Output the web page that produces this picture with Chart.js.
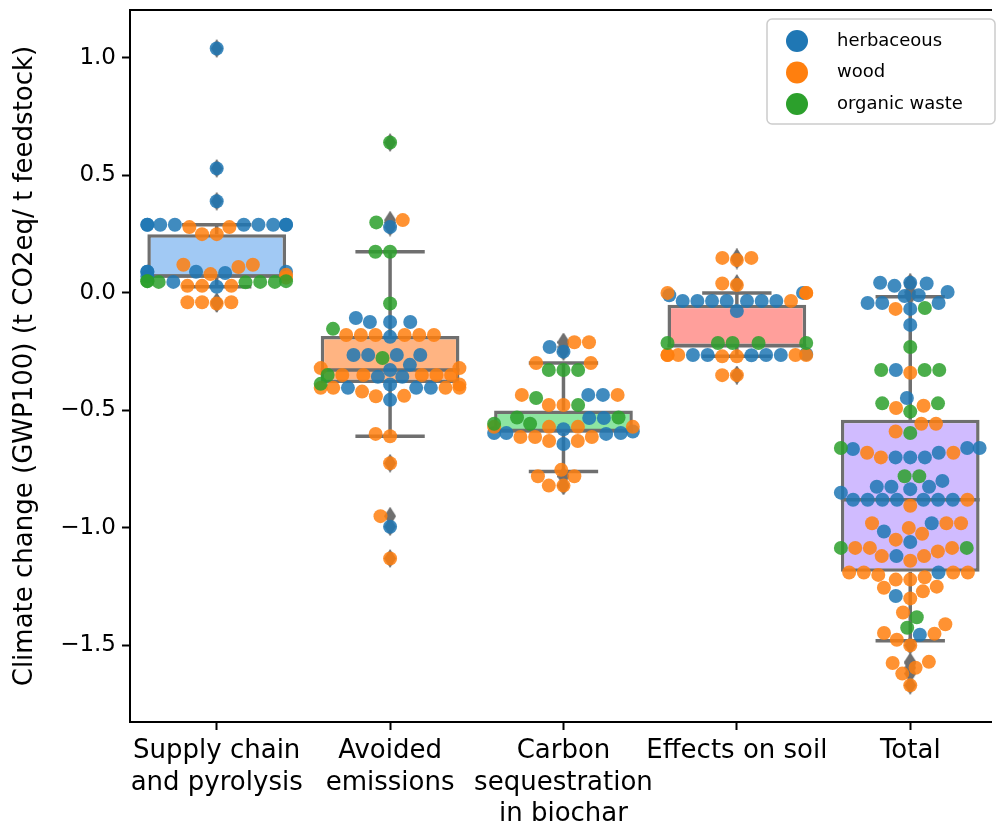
<!DOCTYPE html>
<html>
<head>
<meta charset="utf-8">
<script src="https://cdn.jsdelivr.net/npm/chart.js@4.4.0/dist/chart.umd.min.js"></script>
<style>
  html, body { margin: 0; padding: 0; background: #fff; }
</style>
</head>
<body>
<canvas id="chart" width="997" height="826"></canvas>
<script>
const categories = [['Supply chain', 'and pyrolysis'], ['Avoided', 'emissions'], ['Carbon', 'sequestration', 'in biochar'], 'Effects on soil', 'Total'];
const feedstocks = ['herbaceous', 'wood', 'organic waste'];
const pointColors = ['31, 119, 180', '255, 127, 14', '44, 160, 44'];
const boxColors = ['#a1c9f4', '#ffb482', '#8de5a1', '#ff9f9b', '#d0bbff'];
const yTicks = [-1.5, -1.0, -0.5, 0.0, 0.5, 1.0];
const yTitle = 'Climate change (GWP100) (t CO2eq/ t feedstock)';

// box statistics per category
const q1 = [0.065, -0.383, -0.595, -0.23, -1.187];
const medians = [0.072, -0.328, -0.585, -0.225, -0.88];
const q3 = [0.25, -0.183, -0.50, -0.05, -0.54];
const whiskerLow = [0.026, -0.61, -0.76, -0.27, -1.48];
const whiskerHigh = [0.29, 0.175, -0.298, 0.0, -0.016];

// individual results per feedstock, one list per category
const herbaceous = [
  [1.04, 0.53, 0.39, 0.29, 0.29, 0.29, 0.29, 0.29, 0.29, 0.29, 0.29, 0.29, 0.09, 0.09, 0.09, 0.09, 0.085, 0.07, 0.047, 0.026],
  [0.28, -0.107, -0.124, -0.124, -0.124, -0.187, -0.264, -0.264, -0.264, -0.264, -0.306, -0.328, -0.357, -0.357, -0.39, -0.404, -0.404, -0.404, -0.455, -0.995],
  [-0.23, -0.25, -0.434, -0.434, -0.532, -0.532, -0.58, -0.59, -0.596, -0.596, -0.596, -0.60, -0.643],
  [0.0, -0.01, -0.034, -0.034, -0.034, -0.034, -0.034, -0.034, -0.034, -0.077, -0.26, -0.264, -0.264, -0.264, -0.264, -0.265],
  [0.043, 0.043, 0.04, 0.03, 0.004, -0.01, -0.013, -0.043, -0.043, -0.043, -0.068, -0.136, -0.328, -0.447, -0.66, -0.66, -0.664, -0.68, -0.70, -0.70, -0.70, -0.80, -0.825, -0.825, -0.825, -0.835, -0.85, -0.88, -0.88, -0.88, -0.88, -0.88, -0.88, -0.88, -0.98, -1.015, -1.06, -1.12, -1.19, -1.29, -1.455]
];
const wood = [
  [0.28, 0.28, 0.25, 0.25, 0.12, 0.12, 0.11, 0.08, 0.077, 0.065, 0.03, 0.03, 0.03, -0.04, -0.04, -0.04, -0.045],
  [0.31, -0.179, -0.179, -0.179, -0.179, -0.179, -0.179, -0.32, -0.32, -0.349, -0.349, -0.349, -0.349, -0.349, -0.39, -0.404, -0.404, -0.404, -0.404, -0.42, -0.438, -0.44, -0.60, -0.61, -0.725, -0.95, -1.13],
  [-0.21, -0.21, -0.298, -0.298, -0.434, -0.434, -0.477, -0.477, -0.57, -0.57, -0.57, -0.57, -0.613, -0.613, -0.613, -0.63, -0.63, -0.753, -0.78, -0.78, -0.82, -0.82],
  [0.149, 0.149, 0.14, 0.04, 0.034, 0.0, 0.0, 0.0, -0.034, -0.264, -0.264, -0.264, -0.264, -0.264, -0.27, -0.27, -0.35, -0.35],
  [-0.068, -0.34, -0.48, -0.49, -0.557, -0.557, -0.59, -0.68, -0.68, -0.70, -0.88, -0.906, -0.98, -0.98, -0.98, -1.0, -1.025, -1.05, -1.085, -1.085, -1.085, -1.10, -1.12, -1.12, -1.14, -1.19, -1.19, -1.19, -1.19, -1.20, -1.21, -1.22, -1.22, -1.25, -1.255, -1.27, -1.30, -1.36, -1.41, -1.447, -1.45, -1.476, -1.50, -1.57, -1.575, -1.595, -1.62, -1.67]
];
const organicWaste = [
  [0.047, 0.047, 0.047, 0.05, 0.05, 0.05, 0.045],
  [0.64, 0.30, 0.175, 0.175, -0.045, -0.153, -0.277, -0.349, -0.387],
  [-0.328, -0.328, -0.328, -0.447, -0.477, -0.53, -0.53, -0.557, -0.557],
  [-0.213, -0.213, -0.213, -0.213, -0.213],
  [-0.064, -0.23, -0.328, -0.328, -0.328, -0.47, -0.47, -0.505, -0.596, -0.66, -0.78, -0.78, -1.085, -1.085, -1.38, -1.425]
];
const series = [herbaceous, wood, organicWaste];

const FONT = 'DejaVu Sans';
const LINE_GRAY = '#6f6f6f';
// the original is cropped just before its right spine (x limit 4.5), so the visible range stops a little short
const X_MIN = -0.5, X_MAX = 4.46;

function thinDiamond(w, h, color) {
  const c = document.createElement('canvas');
  c.width = w; c.height = h;
  const g = c.getContext('2d');
  g.fillStyle = color;
  g.beginPath();
  g.moveTo(w / 2, 0); g.lineTo(w, h / 2); g.lineTo(w / 2, h); g.lineTo(0, h / 2);
  g.closePath(); g.fill();
  return c;
}

// fliers: every value beyond the whiskers, drawn at the category centre
const outliers = [];
categories.forEach((_, i) => {
  series.forEach(s => s[i].forEach(v => {
    if (v > whiskerHigh[i] || v < whiskerLow[i]) outliers.push({ x: i, y: v });
  }));
});

const boxPlugin = {
  id: 'boxLines',
  afterDatasetDraw(chart, args) {
    if (args.index !== 0) return;
    const ctx = chart.ctx, y = chart.scales.y;
    ctx.save();
    ctx.strokeStyle = LINE_GRAY;
    ctx.lineWidth = 3.5;
    ctx.lineCap = 'butt';
    args.meta.data.forEach((bar, i) => {
      const cx = bar.x, hw = bar.width / 2, cap = hw / 2;
      const line = (x0, y0, x1, y1) => { ctx.beginPath(); ctx.moveTo(x0, y0); ctx.lineTo(x1, y1); ctx.stroke(); };
      line(cx, y.getPixelForValue(q3[i]), cx, y.getPixelForValue(whiskerHigh[i]));
      line(cx, y.getPixelForValue(q1[i]), cx, y.getPixelForValue(whiskerLow[i]));
      line(cx - cap, y.getPixelForValue(whiskerHigh[i]), cx + cap, y.getPixelForValue(whiskerHigh[i]));
      line(cx - cap, y.getPixelForValue(whiskerLow[i]), cx + cap, y.getPixelForValue(whiskerLow[i]));
      line(cx - hw, y.getPixelForValue(medians[i]), cx + hw, y.getPixelForValue(medians[i]));
    });
    ctx.restore();
  },
  afterDatasetsDraw(chart) {
    // left, top and bottom spines; the right one is outside the picture
    const { ctx, chartArea: a } = chart;
    ctx.save();
    ctx.strokeStyle = '#000';
    ctx.lineWidth = 2;
    ctx.beginPath();
    ctx.moveTo(a.right + 2, a.top);
    ctx.lineTo(a.left, a.top);
    ctx.lineTo(a.left, a.bottom);
    ctx.lineTo(a.right + 2, a.bottom);
    ctx.stroke();
    ctx.restore();
  },
  afterDraw(chart) {
    const ctx = chart.ctx;
    const bx = 767, by = 19, bw = 228, bh = 105;
    ctx.save();
    ctx.beginPath();
    ctx.roundRect(bx, by, bw, bh, 5);
    ctx.fillStyle = 'rgba(255,255,255,0.8)';
    ctx.fill();
    ctx.strokeStyle = '#cccccc';
    ctx.lineWidth = 1.5;
    ctx.stroke();
    ctx.font = '18px "' + FONT + '"';
    ctx.textBaseline = 'middle';
    feedstocks.forEach((name, i) => {
      const yy = 41 + i * 31.5;
      ctx.beginPath();
      ctx.arc(797, yy, 11, 0, Math.PI * 2);
      ctx.fillStyle = 'rgb(' + pointColors[i] + ')';
      ctx.fill();
      ctx.fillStyle = '#000';
      ctx.fillText(name, 837, yy);
    });
    ctx.restore();
  }
};

const datasets = [
  {
    type: 'bar',
    label: 'box',
    data: categories.map((_, i) => ({ x: i, y: [q1[i], q3[i]] })),
    backgroundColor: boxColors,
    borderColor: LINE_GRAY,
    borderWidth: 3.5,
    borderSkipped: false,
    grouped: false,
    barPercentage: 0.8,
    categoryPercentage: 1.0,
    order: 5
  },
  {
    type: 'scatter',
    label: 'outliers',
    data: outliers,
    pointStyle: thinDiamond(12, 19, LINE_GRAY),
    order: 4
  }
];
feedstocks.forEach((name, si) => {
  datasets.push({
    type: 'scatter',
    label: name,
    data: [],
    pointRadius: 7,
    pointBorderWidth: 0,
    pointBackgroundColor: 'rgba(' + pointColors[si] + ', 0.85)',
    order: 3 - si
  });
});

const chart = new Chart(document.getElementById('chart'), {
  type: 'bar',
  data: { datasets: datasets },
  options: {
    responsive: false,
    animation: false,
    devicePixelRatio: 1,
    events: [],
    layout: { padding: { top: 10, right: 1, left: 0, bottom: 0 } },
    plugins: { legend: { display: false }, tooltip: { enabled: false } },
    scales: {
      x: {
        type: 'linear',
        min: X_MIN,
        max: X_MAX,
        offset: false,
        afterBuildTicks: s => { s.ticks = categories.map((_, i) => ({ value: i })); },
        grid: { offset: false, drawOnChartArea: false, tickLength: 8, tickWidth: 2, tickColor: '#000' },
        border: { display: false },
        ticks: {
          color: '#000',
          font: { family: FONT, size: 26 },
          padding: 6,
          maxRotation: 0,
          autoSkip: false,
          callback: (v, i) => categories[i]
        },
        afterFit: s => { s.height = 104; s.paddingLeft = 0; s.paddingRight = 0; }
      },
      y: {
        min: -1.826,
        max: 1.204,
        afterBuildTicks: s => { s.ticks = yTicks.map(v => ({ value: v })); },
        grid: { drawOnChartArea: false, tickLength: 8, tickWidth: 2, tickColor: '#000' },
        border: { display: false },
        ticks: {
          color: '#000',
          font: { family: FONT, size: 23 },
          padding: 6,
          callback: v => (v < 0 ? '\u2212' : '') + Math.abs(v).toFixed(1)
        },
        title: { display: true, text: yTitle, color: '#000', font: { family: FONT, size: 26 }, padding: { top: 10, bottom: 0 } },
        afterFit: s => { s.width = 130; s.paddingTop = 0; s.paddingBottom = 0; }
      }
    }
  },
  plugins: [boxPlugin]
});

// beeswarm placement in pixel space, then back to axis values
function placeSwarm(chart) {
  const ys = chart.scales.y, xs = chart.scales.x;
  const d = 14;
  const halfW = 0.4 * (xs.getPixelForValue(1) - xs.getPixelForValue(0));
  const out = series.map(() => []);
  categories.forEach((_, ci) => {
    const cx = xs.getPixelForValue(ci);
    const items = [];
    series.forEach((s, si) => s[ci].forEach(v => items.push({ si, v, py: ys.getPixelForValue(v) })));
    items.sort((a, b) => a.v - b.v);
    const placed = [];
    items.forEach(it => {
      const nb = placed.filter(p => Math.abs(p.py - it.py) < d);
      const cands = [cx];
      nb.forEach(p => {
        const dx = Math.sqrt(Math.max(d * d - (it.py - p.py) ** 2, 0)) * 1.05;
        cands.push(p.px - dx, p.px + dx);
      });
      cands.sort((a, b) => Math.abs(a - cx) - Math.abs(b - cx));
      let px = cands.find(c => nb.every(p => (p.px - c) ** 2 + (p.py - it.py) ** 2 >= d * d - 0.01));
      if (px === undefined) px = cands[cands.length - 1];
      it.px = px;
      placed.push(it);
    });
    placed.forEach(it => {
      const px = Math.min(cx + halfW, Math.max(cx - halfW, it.px));
      out[it.si].push({ x: xs.getValueForPixel(px), y: it.v });
    });
  });
  out.forEach((data, si) => { chart.data.datasets[si + 2].data = data; });
}

placeSwarm(chart);
chart.update('none');
</script>
</body>
</html>
